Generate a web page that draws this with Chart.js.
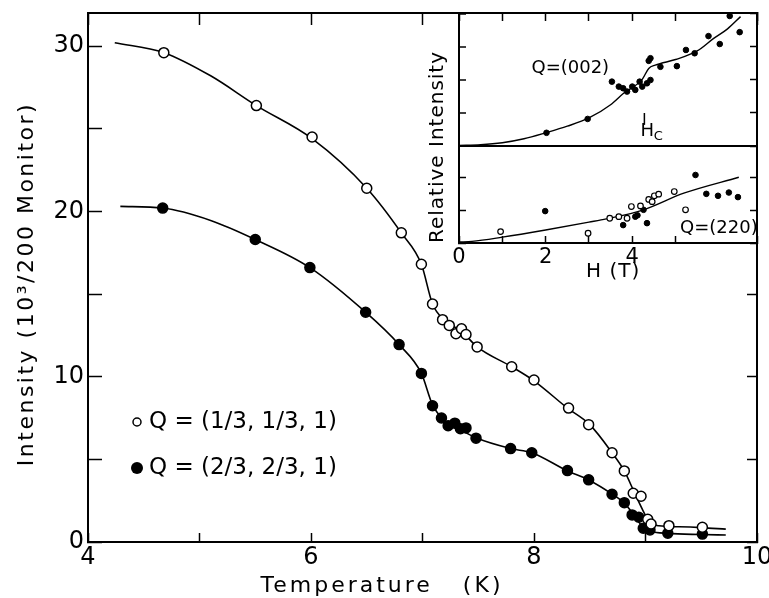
<!DOCTYPE html>
<html>
<head>
<meta charset="utf-8">
<script src="https://cdn.jsdelivr.net/npm/chart.js@4.4.1/dist/chart.umd.min.js"></script>
<style>
  html, body { margin: 0; padding: 0; background: #fff; }
  #wrap { position: relative; width: 769px; height: 598px; }
  #main { position: absolute; left: 0; top: 0; }
  #inset { position: absolute; left: 420px; top: 0; }
</style>
</head>
<body>
<div id="wrap">
  <canvas id="main" width="769" height="598"></canvas>
  <canvas id="inset" width="349" height="290"></canvas>
</div>
<script>
// Neutron intensity vs temperature, with the field-dependence inset.
const FONT = "'DejaVu Sans', sans-serif";
const INK = "#000";

// ---- main panel data (T in K, intensity in 10^3 / 200 monitor) ----
const SERIES = ["Q = (1/3, 1/3, 1)", "Q = (2/3, 2/3, 1)"];
const openT = [4.68, 5.51, 6.01, 6.50, 6.81, 6.99, 7.09, 7.18, 7.24, 7.30, 7.35, 7.39, 7.49, 7.80, 8.00, 8.31, 8.49, 8.70, 8.81, 8.89, 8.96, 9.02, 9.05, 9.21, 9.51];
const openI = [29.6, 26.4, 24.5, 21.4, 18.7, 16.8, 14.4, 13.45, 13.1, 12.6, 12.9, 12.55, 11.8, 10.6, 9.8, 8.1, 7.1, 5.4, 4.3, 2.95, 2.77, 1.37, 1.09, 0.99, 0.89];
const filledT = [4.67, 5.50, 5.99, 6.49, 6.79, 6.99, 7.09, 7.17, 7.23, 7.29, 7.34, 7.39, 7.48, 7.79, 7.98, 8.30, 8.49, 8.70, 8.81, 8.88, 8.94, 8.98, 9.04, 9.20, 9.51];
const filledI = [20.2, 18.3, 16.6, 13.9, 11.94, 10.2, 8.24, 7.5, 7.03, 7.19, 6.85, 6.9, 6.28, 5.65, 5.4, 4.32, 3.76, 2.89, 2.38, 1.64, 1.5, 0.83, 0.73, 0.53, 0.48];
// hand-drawn guide curves through the points
const openFitT = [4.24, 4.68, 5.1, 5.51, 6.01, 6.5, 6.81, 6.99, 7.09, 7.2, 7.35, 7.49, 7.8, 8.0, 8.3, 8.5, 8.7, 8.81, 8.9, 8.97, 9.03, 9.12, 9.3, 9.5, 9.72];
const openFitI = [30.2, 29.6, 28.2, 26.4, 24.4, 21.4, 18.7, 16.8, 14.4, 13.4, 12.75, 11.8, 10.6, 9.75, 8.1, 7.1, 5.4, 4.3, 3.0, 2.0, 1.25, 0.98, 0.92, 0.87, 0.78];
const filledFitT = [4.29, 4.67, 5.1, 5.5, 5.99, 6.49, 6.79, 6.99, 7.09, 7.19, 7.3, 7.48, 7.79, 7.98, 8.3, 8.49, 8.7, 8.81, 8.9, 8.97, 9.05, 9.2, 9.5, 9.72];
const filledFitI = [20.3, 20.2, 19.45, 18.3, 16.6, 13.9, 11.94, 10.2, 8.3, 7.4, 6.95, 6.3, 5.65, 5.4, 4.3, 3.75, 2.9, 2.35, 1.6, 0.95, 0.65, 0.52, 0.45, 0.42];
const X_TITLE = "Temperature   (K)";
const Y_TITLE = "Intensity (10\u00B3/200 Monitor)";

// ---- inset data (H in T, relative intensity) ----
const topH = [2.02, 2.97, 3.53, 3.69, 3.79, 3.88, 4.00, 4.07, 4.17, 4.23, 4.34, 4.42, 4.38, 4.42, 4.65, 5.03, 5.24, 5.44, 5.76, 6.02, 6.25, 6.48];
const topI = [0.40, 0.82, 1.95, 1.80, 1.75, 1.65, 1.80, 1.70, 1.95, 1.80, 1.90, 2.00, 2.58, 2.66, 2.40, 2.42, 2.91, 2.81, 3.33, 3.09, 3.94, 3.45];
const topFitH = [0, 0.5, 1.0, 1.5, 2.0, 2.5, 3.0, 3.5, 3.8, 4.23, 4.38, 4.53, 5.0, 5.5, 5.88, 6.2, 6.5];
const topFitI = [0.02, 0.04, 0.1, 0.22, 0.4, 0.6, 0.85, 1.25, 1.6, 2.02, 2.35, 2.45, 2.62, 2.88, 3.26, 3.55, 3.92];
const lowOpenH = [0.96, 2.98, 3.48, 3.69, 3.88, 3.98, 4.19, 4.38, 4.46, 4.51, 4.61, 4.97, 5.23];
const lowOpenI = [0.35, 0.30, 0.76, 0.81, 0.76, 1.12, 1.14, 1.34, 1.27, 1.45, 1.50, 1.58, 1.02];
const lowFilledH = [1.99, 3.79, 4.07, 4.12, 4.26, 4.34, 5.46, 5.71, 5.98, 6.23, 6.44];
const lowFilledI = [0.98, 0.55, 0.81, 0.85, 1.02, 0.61, 2.09, 1.51, 1.45, 1.55, 1.41];
const lowFitH = [0, 0.3, 1, 2, 3, 3.4, 4.26, 5.19, 6.46];
const lowFitI = [0.03, 0.05, 0.18, 0.4, 0.64, 0.74, 1.02, 1.53, 2.02];
const INSET_X_TITLE = "H (T)";
const INSET_Y_TITLE = "Relative Intensity";
const TOP_LABEL = "Q=(002)", LOW_LABEL = "Q=(220)";

Chart.defaults.font.family = FONT;
Chart.defaults.color = INK;

const pts = (xs, ys) => xs.map((x, i) => ({ x, y: ys[i] }));
const dots = (data, fill, r, extra = {}) => ({
  data, showLine: false, pointRadius: r, pointHoverRadius: r,
  pointBackgroundColor: fill, pointBorderColor: INK, pointBorderWidth: 1.5, ...extra,
});
const fit = (data, extra = {}) => ({
  data, showLine: true, pointRadius: 0, borderColor: INK, borderWidth: 1.6,
  cubicInterpolationMode: "monotone", ...extra,
});
// inward tick marks: negative tick length, no grid lines
const inward = (len) => ({ drawOnChartArea: false, tickLength: -len, tickColor: INK, tickWidth: 1.5 });
const frame = { display: true, color: INK, width: 2 };
// pin axis boxes so the plot frame lands where the figure has it
const fixW = (w) => (s) => { s.width = w; s.paddingTop = 0; s.paddingBottom = 0; };
const fixH = (h) => (s) => { s.height = h; s.paddingLeft = 0; s.paddingRight = 0; };

function spaced(c, text, x, y, px) {
  c.letterSpacing = px + "px";
  c.fillText(text, x, y);
  c.letterSpacing = "0px";
}

// ---- main chart ----
const mainText = {
  id: "mainText",
  beforeDraw(chart) {
    const c = chart.ctx;
    c.save(); c.fillStyle = "#fff"; c.fillRect(0, 0, chart.width, chart.height); c.restore();
  },
  afterDraw(chart) {
    const c = chart.ctx;
    c.save();
    c.fillStyle = INK; c.strokeStyle = INK;
    c.textBaseline = "middle"; c.textAlign = "center";
    c.font = `22px ${FONT}`;
    spaced(c, X_TITLE, 382, 586, 3);
    c.save(); c.translate(27, 284); c.rotate(-Math.PI / 2); spaced(c, Y_TITLE, 0, 0, 2.5); c.restore();
    // legend, drawn inside the plot
    c.textAlign = "left"; c.font = `23px ${FONT}`;
    c.lineWidth = 1.5;
    c.beginPath(); c.arc(137, 422, 4, 0, Math.PI * 2); c.stroke();
    c.fillText(SERIES[0], 149, 422);
    c.beginPath(); c.arc(137, 468, 6, 0, Math.PI * 2); c.fill();
    c.fillText(SERIES[1], 149, 468);
    c.restore();
  },
};

new Chart(document.getElementById("main"), {
  type: "scatter",
  data: {
    datasets: [
      dots(pts(openT, openI), "#fff", 5, { label: SERIES[0] }),
      dots(pts(filledT, filledI), INK, 5, { label: SERIES[1] }),
      fit(pts(openFitT, openFitI)),
      fit(pts(filledFitT, filledFitI)),
    ],
  },
  options: {
    responsive: false, animation: false, devicePixelRatio: 1,
    layout: { padding: 0 },
    plugins: { legend: { display: false }, tooltip: { enabled: false } },
    scales: {
      x: {
        type: "linear", position: "bottom", min: 4, max: 10,
        ticks: { stepSize: 1, autoSkip: false, maxRotation: 0, padding: 10, font: { size: 24 },
          callback: (v) => (v % 2 === 0 ? v : "") },
        grid: inward(9), border: frame, afterFit: fixH(56),
      },
      xTop: {
        type: "linear", position: "top", min: 4, max: 10,
        ticks: { stepSize: 1, display: false }, grid: inward(12), border: frame, afterFit: fixH(13),
      },
      y: {
        type: "linear", position: "left", min: 0, max: 32,
        ticks: { stepSize: 5, includeBounds: false, autoSkip: false, padding: 18, font: { size: 24 },
          callback: (v) => (v % 10 === 0 ? v : "") },
        grid: inward(14), border: frame, afterFit: fixW(88),
      },
      yRight: {
        type: "linear", position: "right", min: 0, max: 32,
        ticks: { stepSize: 5, includeBounds: false, display: false },
        grid: inward(10), border: frame, afterFit: fixW(12),
      },
    },
  },
  plugins: [mainText],
});

// ---- inset: two stacked panels sharing the field axis ----
const insetText = {
  id: "insetText",
  beforeDraw(chart) {
    const { left, top, width, height } = chart.chartArea;
    const c = chart.ctx;
    c.save(); c.fillStyle = "#fff"; c.fillRect(left, top, width, height); c.restore();
  },
  afterDraw(chart) {
    const c = chart.ctx;
    const { x, yTop, yBot } = chart.scales;
    c.save();
    c.fillStyle = INK; c.strokeStyle = INK;
    c.textAlign = "center"; c.textBaseline = "middle";
    c.font = `20px ${FONT}`;
    spaced(c, INSET_X_TITLE, x.getPixelForValue(3.56), 272, 1);
    c.save(); c.translate(18, 147); c.rotate(-Math.PI / 2); spaced(c, INSET_Y_TITLE, 0, 0, 1); c.restore();
    c.font = `18px ${FONT}`;
    c.fillText(TOP_LABEL, x.getPixelForValue(2.57), yTop.getPixelForValue(2.36));
    c.fillText(LOW_LABEL, x.getPixelForValue(6.0), yBot.getPixelForValue(0.46));
    // H_c marker
    const hc = x.getPixelForValue(4.28);
    c.lineWidth = 1.5;
    c.beginPath(); c.moveTo(hc, yTop.getPixelForValue(1.0)); c.lineTo(hc, yTop.getPixelForValue(0.64)); c.stroke();
    c.fillText("H", hc + 3, yTop.getPixelForValue(0.43));
    c.font = `13px ${FONT}`;
    c.fillText("C", hc + 14, yTop.getPixelForValue(0.27));
    c.restore();
  },
};

const dividerGrid = {
  drawOnChartArea: true, tickLength: -7, tickColor: INK, tickWidth: 1.5, lineWidth: 2,
  color: (ctx) => (ctx.tick && ctx.tick.value === 0 ? INK : "rgba(0,0,0,0)"),
};

new Chart(document.getElementById("inset"), {
  type: "scatter",
  data: {
    datasets: [
      dots(pts(topH, topI), INK, 2.8, { yAxisID: "yTop", pointBorderWidth: 1 }),
      dots(pts(lowOpenH, lowOpenI), "#fff", 2.8, { yAxisID: "yBot", pointBorderWidth: 1.2 }),
      dots(pts(lowFilledH, lowFilledI), INK, 2.8, { yAxisID: "yBot", pointBorderWidth: 1 }),
      fit(pts(topFitH, topFitI), { yAxisID: "yTop", borderWidth: 1.4 }),
      fit(pts(lowFitH, lowFitI), { yAxisID: "yBot", borderWidth: 1.4 }),
    ],
  },
  options: {
    responsive: false, animation: false, devicePixelRatio: 1,
    layout: { padding: 0 },
    plugins: { legend: { display: false }, tooltip: { enabled: false } },
    scales: {
      x: {
        type: "linear", position: "bottom", min: 0, max: 6.88,
        ticks: { stepSize: 1, autoSkip: false, maxRotation: 0, padding: 9, font: { size: 21 },
          callback: (v) => (v % 2 === 0 ? v : "") },
        grid: inward(7), border: frame, afterFit: fixH(47),
      },
      xTop: {
        type: "linear", position: "top", min: 0, max: 6.88,
        ticks: { stepSize: 1, display: false }, grid: inward(8), border: frame, afterFit: fixH(13),
      },
      yTop: {
        type: "linear", position: "left", stack: "left", stackWeight: 133, weight: 1,
        min: 0, max: 4.03, ticks: { stepSize: 1, display: false, includeBounds: false },
        grid: dividerGrid, border: frame, afterFit: fixW(39),
      },
      yBot: {
        type: "linear", position: "left", stack: "left", stackWeight: 97, weight: 0,
        min: 0, max: 2.98, ticks: { stepSize: 1, display: false, includeBounds: false },
        grid: inward(7), border: frame, afterFit: fixW(39),
      },
      yTopR: {
        type: "linear", position: "right", stack: "right", stackWeight: 133, weight: 0,
        min: 0, max: 4.03, ticks: { stepSize: 1, display: false, includeBounds: false },
        grid: inward(7), border: frame, afterFit: fixW(12),
      },
      yBotR: {
        type: "linear", position: "right", stack: "right", stackWeight: 97, weight: 1,
        min: 0, max: 2.98, ticks: { stepSize: 1, display: false, includeBounds: false },
        grid: inward(7), border: frame, afterFit: fixW(12),
      },
    },
  },
  plugins: [insetText],
});
</script>
</body>
</html>
